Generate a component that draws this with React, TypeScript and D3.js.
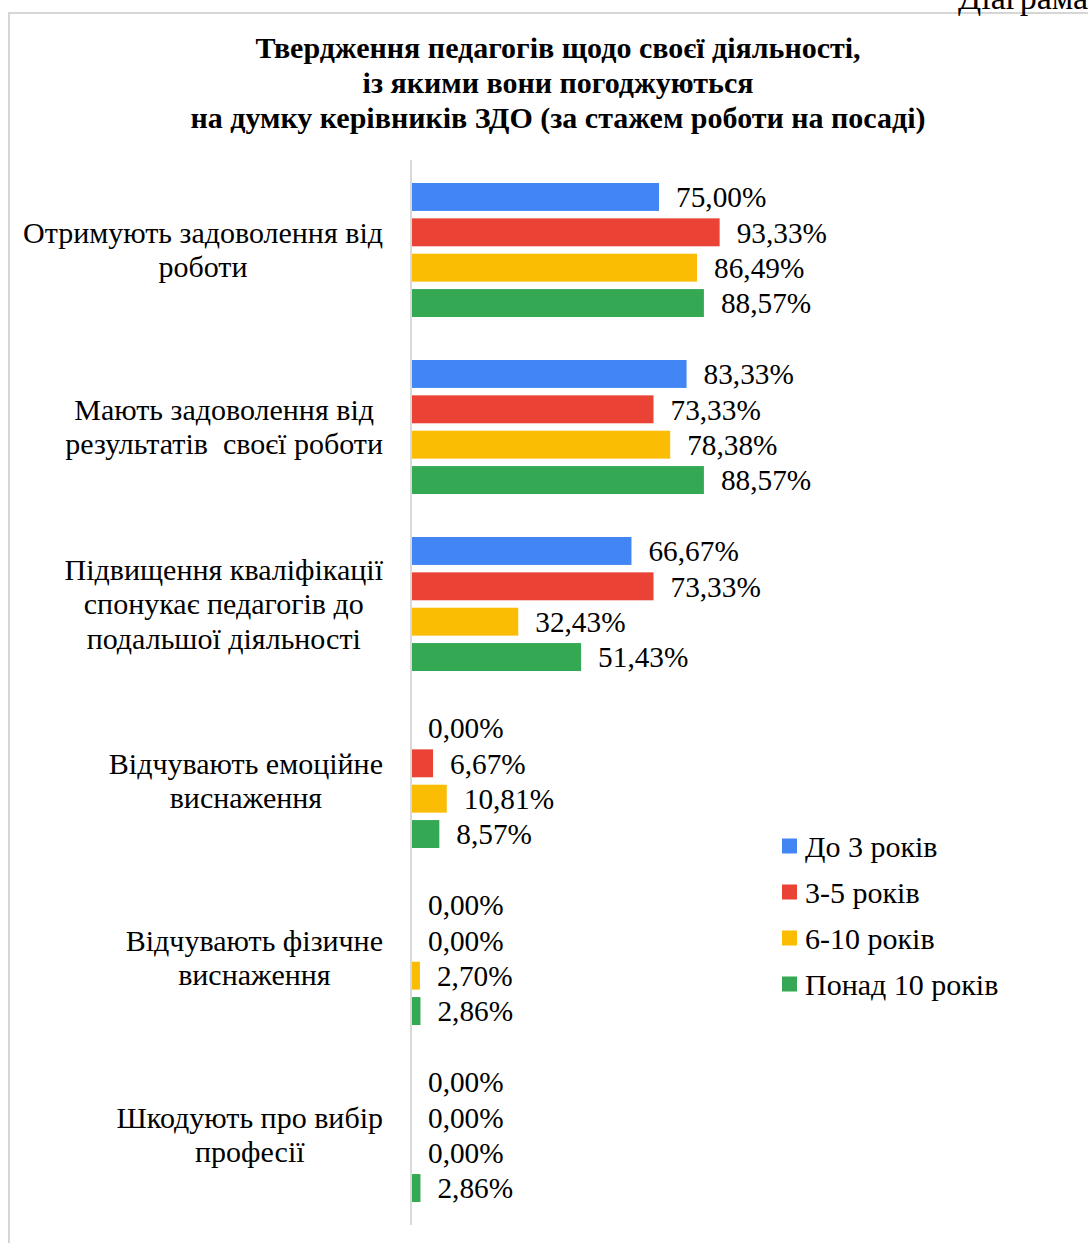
import React, { useEffect, useRef } from "react";
import * as d3 from "d3";

const categories: string[][] = [
  ["Отримують задоволення від", "роботи"],
  ["Мають задоволення від", "результатів  своєї роботи"],
  ["Підвищення кваліфікації", "спонукає педагогів до", "подальшої діяльності"],
  ["Відчувають емоційне", "виснаження"],
  ["Відчувають фізичне", "виснаження"],
  ["Шкодують про вибір", "професії"],
];

const seriesNames = ["До 3 років", "3-5 років", "6-10 років", "Понад 10 років"];
const seriesColors = ["#4285F4", "#EA4335", "#FBBC04", "#34A853"];

const upTo3 = [75.0, 83.33, 66.67, 0.0, 0.0, 0.0];
const from3to5 = [93.33, 73.33, 73.33, 6.67, 0.0, 0.0];
const from6to10 = [86.49, 78.38, 32.43, 10.81, 2.7, 0.0];
const over10 = [88.57, 88.57, 51.43, 8.57, 2.86, 2.86];

const titleLines = [
  "Твердження педагогів щодо своєї діяльності,",
  "із якими вони погоджуються",
  "на думку керівників ЗДО (за стажем роботи на посаді)",
];

const W = 1088;
const H = 1243;
const FONT = "'Liberation Serif', 'Times New Roman', serif";

export default function App() {
  const ref = useRef<SVGSVGElement | null>(null);

  useEffect(() => {
    const svg = d3.select(ref.current);
    svg.selectAll("*").remove();

    const seriesValues = [upTo3, from3to5, from6to10, over10];
    const catIdx = categories.map((_, i) => String(i));

    svg.append("rect").attr("x", 0).attr("y", 0).attr("width", W).attr("height", H).attr("fill", "#fff");

    // frame
    svg.append("path")
      .attr("d", `M9,${H} L9,13 L${W},13`)
      .attr("fill", "none")
      .attr("stroke", "#d6d6d6")
      .attr("stroke-width", 2);

    // heading at top right, clipped by the page edge as in the source
    svg.append("text")
      .attr("x", 958)
      .attr("y", 9)
      .attr("font-family", FONT)
      .attr("font-size", 34)
      .attr("fill", "#000")
      .text("Діаграма");

    // title
    const title = svg.append("text")
      .attr("font-family", FONT)
      .attr("font-size", 30)
      .attr("font-weight", "bold")
      .attr("text-anchor", "middle")
      .attr("fill", "#000");
    titleLines.forEach((t, i) => {
      title.append("tspan").attr("x", 558).attr("y", 58 + i * 35).text(t);
    });

    const y0 = d3.scaleBand<string>().domain(catIdx).range([161, 1223]).padding(0);
    const y1 = d3.scaleBand<string>()
      .domain(seriesNames)
      .range([22, 156])
      .paddingInner(0.21)
      .paddingOuter(0);
    const x = d3.scaleLinear().domain([0, 100]).range([411, 411 + 330.7]);

    const fmt = (v: number) => v.toFixed(2).replace(".", ",") + "%";

    const g = svg.append("g");
    categories.forEach((_, ci) => {
      const gy = y0(String(ci))!;
      seriesNames.forEach((s, si) => {
        const v = seriesValues[si][ci];
        const by = gy + y1(s)!;
        g.append("rect")
          .attr("x", x(0))
          .attr("y", by)
          .attr("width", x(v) - x(0))
          .attr("height", y1.bandwidth())
          .attr("fill", seriesColors[si]);
        g.append("text")
          .attr("x", x(v) + 17)
          .attr("y", by + y1.bandwidth() / 2)
          .attr("dy", "0.35em")
          .attr("font-family", FONT)
          .attr("font-size", 29.3)
          .attr("fill", "#000")
          .text(fmt(v));
      });
    });

    // axis line
    svg.append("line")
      .attr("x1", x(0))
      .attr("x2", x(0))
      .attr("y1", 160)
      .attr("y2", 1225)
      .attr("stroke", "#d9d9d9")
      .attr("stroke-width", 2);

    // category labels: block right-aligned, lines centred within block
    const lineH = 34.5;
    categories.forEach((lines, ci) => {
      const cy = y0(String(ci))! + y0.bandwidth() / 2;
      const t = svg.append("text")
        .attr("font-family", FONT)
        .attr("font-size", 30)
        .attr("fill", "#000")
        .attr("text-anchor", "middle")
        .attr("xml:space", "preserve")
        .style("white-space", "pre");
      const spans = lines.map((l, li) =>
        t.append("tspan")
          .attr("y", cy + (li - (lines.length - 1) / 2) * lineH)
          .attr("dy", "0.35em")
          .text(l)
      );
      let maxW = 0;
      spans.forEach((sp) => {
        const n = sp.node() as SVGTSpanElement;
        maxW = Math.max(maxW, n.getComputedTextLength());
      });
      const cx = 383 - maxW / 2;
      spans.forEach((sp) => sp.attr("x", cx));
    });

    // legend
    const lg = svg.append("g");
    seriesNames.forEach((s, i) => {
      const cy = 846 + i * 46;
      lg.append("rect")
        .attr("x", 782)
        .attr("y", cy - 7.5)
        .attr("width", 15)
        .attr("height", 15)
        .attr("fill", seriesColors[i]);
      lg.append("text")
        .attr("x", 805)
        .attr("y", cy)
        .attr("dy", "0.35em")
        .attr("font-family", FONT)
        .attr("font-size", 30)
        .attr("xml:space", "preserve")
        .style("white-space", "pre")
        .attr("fill", "#000")
        .text(s);
    });
  }, []);

  return (
    <svg
      ref={ref}
      width={W}
      height={H}
      style={{ position: "absolute", left: 0, top: 0, display: "block" }}
    />
  );
}
